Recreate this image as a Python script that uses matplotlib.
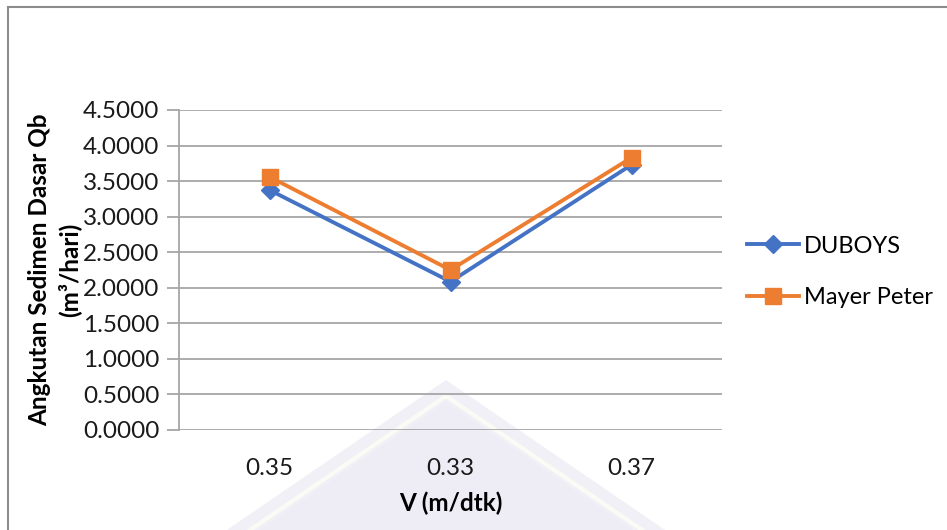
import matplotlib
matplotlib.use("Agg")
import matplotlib.pyplot as plt
from matplotlib.lines import Line2D
from matplotlib.patches import Rectangle, Polygon

plt.rcParams['font.family'] = ['Lato', 'DejaVu Sans']

categories = ["0.35", "0.33", "0.37"]
duboys = [3.375, 2.086, 3.73]
mayer_peter = [3.56, 2.25, 3.83]
y_ticks = [0.0, 0.5, 1.0, 1.5, 2.0, 2.5, 3.0, 3.5, 4.0, 4.5]

blue = "#4472C4"
orange = "#ED7D31"
grid_grey = "#A6A6A6"
W, H = 947, 530


def fx(px):
    return px / W


def fy(py):
    return 1 - py / H


fig = plt.figure(figsize=(9.47, 5.30), dpi=100)
fig.patch.set_facecolor("white")

# faint emblem in the background
outer = Polygon([(fx(446), fy(380)), (fx(205), fy(545)), (fx(687), fy(545))],
                closed=True, transform=fig.transFigure, facecolor="#F1F0F7",
                edgecolor="none", zorder=-3)
inner = Polygon([(fx(446), fy(402)), (fx(237), fy(545)), (fx(655), fy(545))],
                closed=True, transform=fig.transFigure, facecolor="#EEEDF5",
                edgecolor="none", zorder=-2)
stripe = Polygon([(fx(446), fy(396)), (fx(228), fy(545)), (fx(664), fy(545))],
                 closed=True, transform=fig.transFigure, fill=False,
                 edgecolor="#FBFBF5", linewidth=3.0, zorder=-1)
for p in (outer, inner, stripe):
    fig.add_artist(p)

# chart frame (left and top edges visible)
fig.add_artist(Rectangle((fx(8), -0.05), 1.1, fy(7) + 0.05,
                         transform=fig.transFigure, fill=False,
                         edgecolor="#8C8C8C", linewidth=1.5, zorder=1))

ax = fig.add_axes([fx(179), fy(430), (722 - 179) / W, 320 / H])
ax.set_facecolor("none")
x = list(range(len(categories)))

ax.plot(x, duboys, color=blue, linewidth=2.8, marker="D", markersize=9,
        label="DUBOYS", zorder=3)
ax.plot(x, mayer_peter, color=orange, linewidth=2.8, marker="s", markersize=11,
        label="Mayer Peter", zorder=4)

ax.set_xlim(-0.5, len(categories) - 0.5)
ax.set_ylim(0, 4.5)
ax.set_yticks(y_ticks)
ax.set_yticklabels([f"{v:.4f}" for v in y_ticks])
ax.set_xticks(x)
ax.set_xticklabels(categories)

ax.grid(axis="y", color=grid_grey, linewidth=1.3)
ax.set_axisbelow(True)
for side in ("top", "right", "bottom"):
    ax.spines[side].set_visible(False)
ax.spines["left"].set_color(grid_grey)
ax.spines["left"].set_linewidth(1.3)
ax.tick_params(axis="y", length=9, color=grid_grey, width=1.3, labelsize=17.5,
               pad=5, labelcolor="#1a1a1a")
ax.tick_params(axis="x", length=0, labelsize=17.5, pad=20, labelcolor="#1a1a1a")

ax.set_xlabel("V (m/dtk)", fontsize=17.5, fontweight="bold")
ax.set_ylabel("Angkutan Sedimen Dasar Qb\n(m³/hari)", fontsize=17.5,
              fontweight="bold", linespacing=1.3)
ax.yaxis.set_label_coords((81 - 179) / (722 - 179), 0.5)
ax.xaxis.set_label_coords(0.5, -(492 - 430) / 320)

handles = [
    Line2D([], [], color=blue, linewidth=2.8, marker="D", markersize=9),
    Line2D([], [], color=orange, linewidth=2.8, marker="s", markersize=11),
]
fig.legend(handles, ["DUBOYS", "Mayer Peter"], loc="center left",
           bbox_to_anchor=(fx(747), fy(272)), frameon=False,
           fontsize=17, handlelength=2.2, handletextpad=0.2,
           labelspacing=1.3, borderaxespad=0, borderpad=0)

fig.savefig("out.png", dpi=100, facecolor="white")
